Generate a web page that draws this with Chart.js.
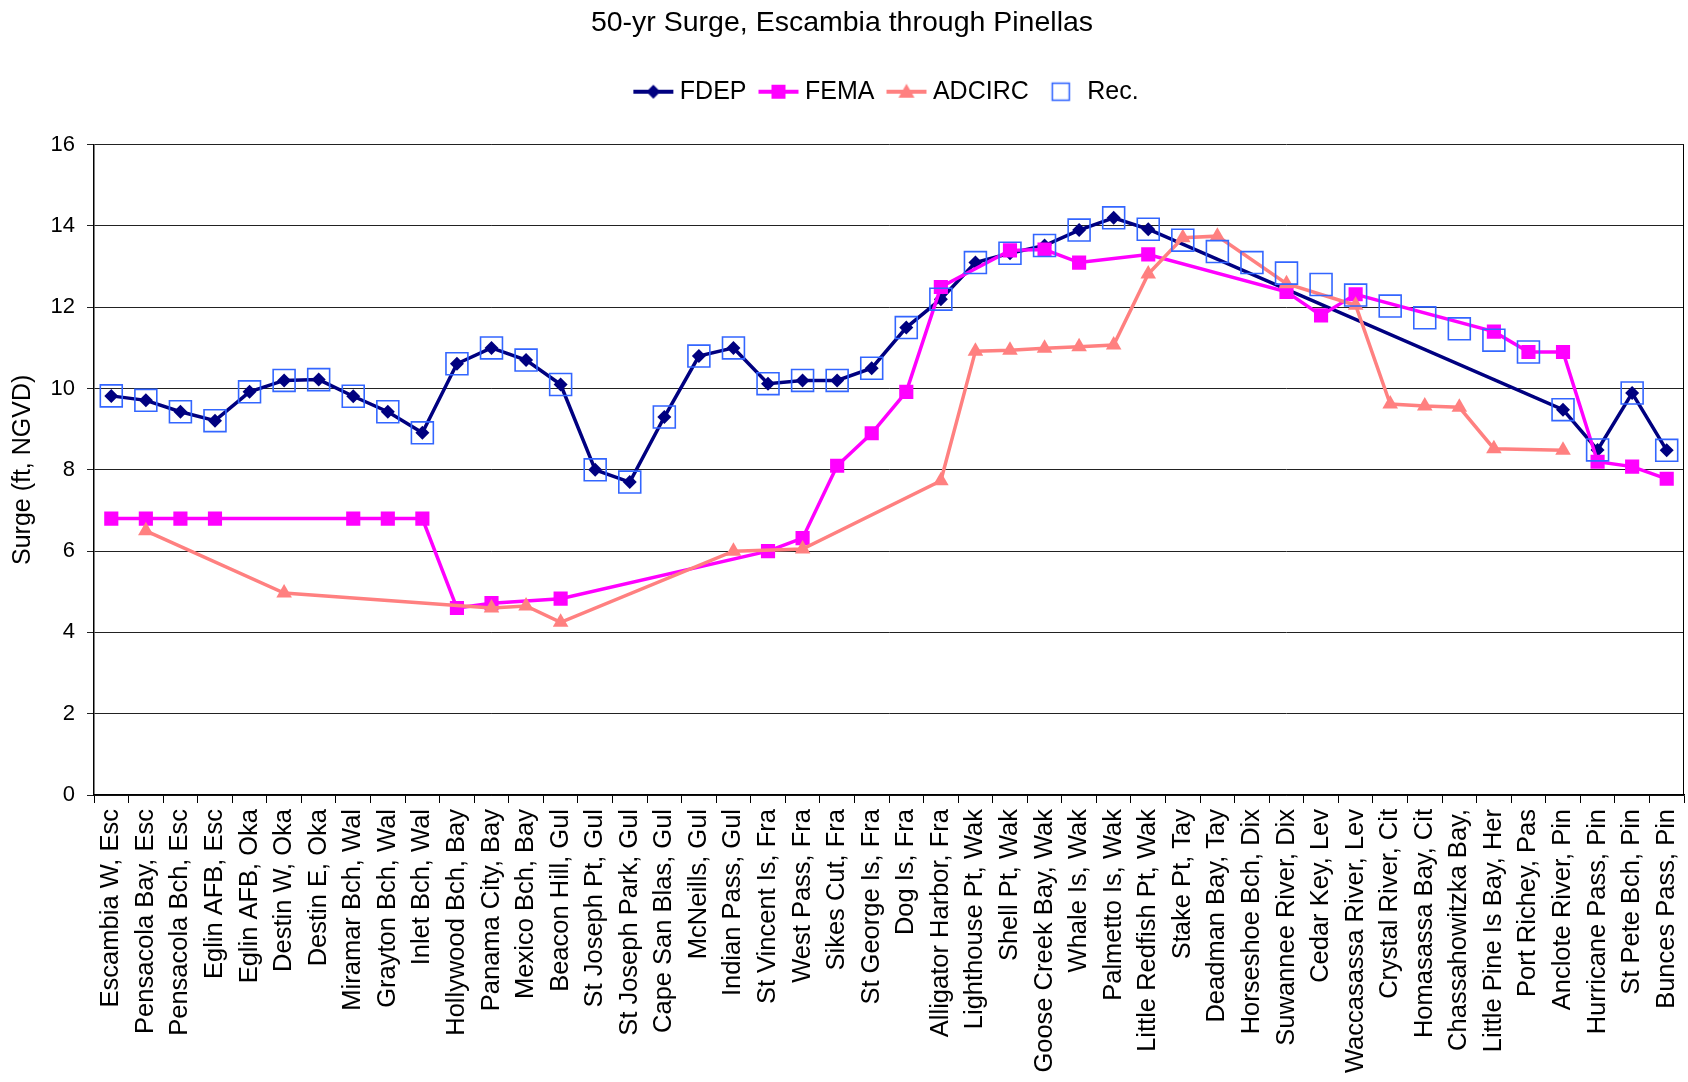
<!DOCTYPE html>
<html>
<head>
<meta charset="utf-8">
<script src="https://cdn.jsdelivr.net/npm/chart.js@4.4.0/dist/chart.umd.min.js"></script>
<style>
  html, body { margin: 0; padding: 0; background: #fff; }
  #wrap { width: 1688px; height: 1082px; }
</style>
</head>
<body>
<div id="wrap"><canvas id="myChart" width="1688" height="1082"></canvas></div>
<script>
// station names along the coast
const stations = [
  'Escambia W, Esc', 'Pensacola Bay, Esc', 'Pensacola Bch, Esc', 'Eglin AFB, Esc', 'Eglin AFB, Oka',
  'Destin W, Oka', 'Destin E, Oka', 'Miramar Bch, Wal', 'Grayton Bch, Wal', 'Inlet Bch, Wal',
  'Hollywood Bch, Bay', 'Panama City, Bay', 'Mexico Bch, Bay', 'Beacon Hill, Gul', 'St Joseph Pt, Gul',
  'St Joseph Park, Gul', 'Cape San Blas, Gul', 'McNeills, Gul', 'Indian Pass, Gul', 'St Vincent Is, Fra',
  'West Pass, Fra', 'Sikes Cut, Fra', 'St George Is, Fra', 'Dog Is, Fra', 'Alligator Harbor, Fra',
  'Lighthouse Pt, Wak', 'Shell Pt, Wak', 'Goose Creek Bay, Wak', 'Whale Is, Wak', 'Palmetto Is, Wak',
  'Little Redfish Pt, Wak', 'Stake Pt, Tay', 'Deadman Bay, Tay', 'Horseshoe Bch, Dix', 'Suwannee River, Dix',
  'Cedar Key, Lev', 'Waccasassa River, Lev', 'Crystal River, Cit', 'Homasassa Bay, Cit', 'Chassahowitzka Bay,',
  'Little Pine Is Bay, Her', 'Port Richey, Pas', 'Anclote River, Pin', 'Hurricane Pass, Pin', 'St Pete Bch, Pin',
  'Bunces Pass, Pin'
];

const fdep = [9.82, 9.71, 9.43, 9.21, 9.92, 10.2, 10.22, 9.81, 9.43, 8.91,
  10.61, 11.0, 10.7, 10.1, 8.0, 7.7, 9.3, 10.8, 11.0, 10.12,
  10.2, 10.2, 10.5, 11.5, 12.2, 13.1, 13.33, 13.52, 13.9, 14.2,
  13.92, null, null, null, null, null, null, null, null, null,
  null, null, 9.48, 8.49, 9.89, 8.48];

const fema = [6.8, 6.8, 6.8, 6.8, null, null, null, 6.8, 6.8, 6.8,
  4.6, 4.72, null, 4.83, null, null, null, null, null, 6.0,
  6.32, 8.1, 8.9, 9.92, 12.5, null, 13.4, 13.42, 13.1, null,
  13.3, null, null, null, 12.38, 11.8, 12.32, null, null, null,
  11.4, 10.9, 10.9, 8.2, 8.08, 7.78];

const adcirc = [null, 6.5, null, null, null, 4.97, null, null, null, null,
  null, 4.6, 4.65, 4.25, null, null, null, null, 6.0, null,
  6.05, null, null, null, 7.73, 10.92, 10.94, 10.99, 11.03, 11.07,
  12.82, 13.71, 13.75, null, 12.58, null, 12.05, 9.62, 9.57, 9.54,
  8.52, null, 8.48, null, null, null];

const rec = [9.82, 9.71, 9.43, 9.21, 9.92, 10.2, 10.22, 9.81, 9.43, 8.91,
  10.61, 11.0, 10.7, 10.1, 8.0, 7.7, 9.3, 10.8, 11.0, 10.12,
  10.2, 10.2, 10.5, 11.5, 12.2, 13.1, 13.33, 13.52, 13.9, 14.2,
  13.92, 13.65, 13.37, 13.1, 12.84, 12.56, 12.3, 12.03, 11.74, 11.47,
  11.19, 10.9, 9.48, 8.49, 9.89, 8.48];

const yTicks = [0, 2, 4, 6, 8, 10, 12, 14, 16];

Chart.defaults.font.family = '"Liberation Sans", Arial, sans-serif';
Chart.defaults.color = '#000';

// little legend pictures: a line with the marker on it
function icon(color, kind, withLine) {
  const c = document.createElement('canvas');
  c.width = 42; c.height = 24;
  const g = c.getContext('2d');
  const cx = 21, cy = 12;
  if (withLine) {
    g.strokeStyle = color; g.lineWidth = 4;
    g.beginPath(); g.moveTo(1, cy); g.lineTo(41, cy); g.stroke();
  }
  g.fillStyle = color;
  g.beginPath();
  if (kind === 'diamond') {
    g.moveTo(cx - 7, cy); g.lineTo(cx, cy - 7); g.lineTo(cx + 7, cy); g.lineTo(cx, cy + 7); g.closePath(); g.fill();
  } else if (kind === 'square') {
    g.fillRect(cx - 7, cy - 7, 14, 14);
  } else if (kind === 'triangle') {
    g.moveTo(cx, cy - 8); g.lineTo(cx + 8, cy + 6); g.lineTo(cx - 8, cy + 6); g.closePath(); g.fill();
  } else {
    g.strokeStyle = color; g.lineWidth = 1.6;
    g.strokeRect(cx - 8.5, cy - 8.5, 17, 17);
  }
  return c;
}

const icons = [
  icon('#000080', 'diamond', true),
  icon('#ff00ff', 'square', true),
  icon('#ff8080', 'triangle', true),
  icon('#3366ff', 'box', false)
];

const frame = {
  id: 'frame',
  afterDraw(chart) {
    const a = chart.chartArea, ctx = chart.ctx;
    ctx.save();
    ctx.strokeStyle = '#000';
    ctx.lineWidth = 1;
    ctx.beginPath();
    ctx.moveTo(Math.round(a.right) - 0.5, a.top);
    ctx.lineTo(Math.round(a.right) - 0.5, a.bottom);
    ctx.stroke();
    ctx.restore();
  }
};

const ctx = document.querySelector('#myChart');

myChart = new Chart(ctx, {
  type: 'line',
  data: {
    labels: stations,
    datasets: [{
      label: 'FDEP',
      data: fdep,
      xAxisID: 'x',
      borderColor: '#000080',
      backgroundColor: '#000080',
      borderWidth: 3.5,
      pointStyle: 'rectRot',
      pointRadius: 7,
      pointBorderWidth: 0,
      spanGaps: true,
      order: 4
    }, {
      label: 'FEMA',
      data: fema,
      xAxisID: 'x',
      borderColor: '#ff00ff',
      backgroundColor: '#ff00ff',
      borderWidth: 3.5,
      pointStyle: 'rect',
      pointRadius: 10,
      pointBorderWidth: 0,
      spanGaps: true,
      order: 3
    }, {
      label: 'ADCIRC',
      data: adcirc,
      xAxisID: 'x',
      borderColor: '#ff8080',
      backgroundColor: '#ff8080',
      borderWidth: 3.5,
      pointStyle: 'triangle',
      pointRadius: 9,
      pointBorderWidth: 0,
      spanGaps: true,
      order: 2
    }, {
      label: 'Rec.',
      data: rec,
      xAxisID: 'x',
      showLine: false,
      borderColor: '#3366ff',
      backgroundColor: 'rgba(0,0,0,0)',
      pointStyle: 'rect',
      pointRadius: 15.5,
      pointBorderWidth: 1.6,
      order: 1
    }]
  },
  plugins: [frame],
  options: {
    responsive: false,
    animation: false,
    events: [],
    layout: { autoPadding: false, padding: { left: 0, right: 4, top: 0, bottom: 0 } },
    plugins: {
      title: {
        display: true,
        text: '50-yr Surge, Escambia through Pinellas',
        font: { size: 28.5, weight: 'normal' },
        padding: { top: 6, bottom: 21 }
      },
      legend: {
        position: 'top',
        fullSize: false,
        labels: {
          font: { size: 25 },
          usePointStyle: true,
          pointStyleWidth: 28,
          boxHeight: 24,
          padding: 18,
          generateLabels(chart) {
            return chart.data.datasets.map((ds, i) => ({
              text: ds.label,
              pointStyle: icons[i],
              fillStyle: 'rgba(0,0,0,0)',
              strokeStyle: 'rgba(0,0,0,0)',
              lineWidth: 0,
              datasetIndex: i,
              hidden: false
            }));
          }
        }
      },
      tooltip: { enabled: false }
    },
    scales: {
      x: {
        type: 'category',
        offset: true,
        grid: {
          display: true,
          drawOnChartArea: false,
          drawTicks: true,
          tickLength: 8,
          offset: true,
          color: '#000'
        },
        border: { color: '#000', width: 1.5 },
        ticks: {
          autoSkip: false,
          minRotation: 90,
          maxRotation: 90,
          padding: 6,
          font: { size: 25.5 }
        },
        afterFit(s) {
          s.height = 1082 - 795;
          s.paddingLeft = 0;
          s.paddingRight = 0;
        }
      },
      xTop: {
        type: 'category',
        position: 'top',
        offset: true,
        labels: stations,
        grid: { display: false },
        border: { display: false },
        ticks: { display: false },
        afterFit(s) { s.height = 30.5; }
      },
      y: {
        min: 0,
        max: 16,
        afterBuildTicks(s) { s.ticks = yTicks.map(v => ({ value: v })); },
        grid: { color: '#222', lineWidth: 1, tickLength: 7 },
        border: { color: '#000', width: 1.5 },
        ticks: { padding: 12, font: { size: 22 } },
        title: {
          display: true,
          text: 'Surge (ft, NGVD)',
          font: { size: 25 },
          padding: { top: 8, bottom: 0 }
        },
        afterFit(s) { s.width = 94; }
      }
    }
  }
});
</script>
</body>
</html>
